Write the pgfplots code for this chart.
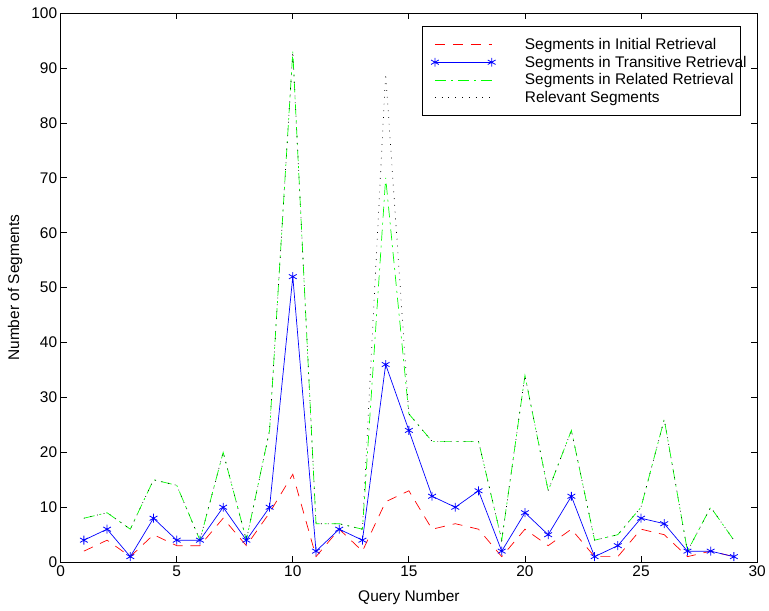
\documentclass[border=0pt]{standalone}
\usepackage{pgfplots}
\pgfplotsset{compat=1.18}
\usepackage{fontspec}
\setmainfont{Liberation Sans}

\newcommand\entry[1]{\makebox[214pt][l]{#1}}

\begin{document}
\begin{tikzpicture}
\begin{axis}[
  scale only axis,
  width=699pt, height=551pt,
  xmin=0, xmax=30, ymin=0, ymax=100,
  xtick={0,5,...,30}, ytick={0,10,...,100},
  tick align=inside,
  major tick length=6pt,
  axis line style={line width=1pt},
  every tick/.style={black, line width=0.8pt},
  font=\fontsize{15.5}{18}\selectfont,
  tick label style={font=\fontsize{15.5}{18}\selectfont},
  /pgf/number format/assume math mode=true,
  title={\rule{0pt}{0pt}},
  title style={inner sep=0pt, minimum height=7pt, yshift=0pt},
  xlabel={Query Number},
  ylabel={Number of Segments},
  xlabel style={inner ysep=6pt, yshift=-4pt},
  ylabel style={inner ysep=8pt, yshift=-2.5pt},
  legend cell align=left,
  legend style={
    at={(rel axis cs:0.519,0.977)}, anchor=north west,
    draw=black, line width=1pt,
    inner xsep=0pt, inner ysep=10pt,
    row sep=1pt,
    font=\fontsize{15.5}{18}\selectfont,
  },
  legend image code/.code={
    \path (-12pt,0pt);
    \draw[mark repeat=1,#1] plot coordinates {(0pt,0pt) (57pt,0pt)};
    \path (88pt,0pt);
  },
]
\addplot[red, line width=0.7pt, dash pattern=on 10pt off 8pt] coordinates {
(1,2) (2,4) (3,1) (4,5) (5,3) (6,3) (7,8) (8,3) (9,9) (10,16)
(11,1) (12,6) (13,2) (14,11) (15,13) (16,6) (17,7) (18,6) (19,1) (20,6)
(21,3) (22,6) (23,1) (24,1) (25,6) (26,5) (27,1) (28,2) (29,1)};
\addlegendentry{\entry{Segments in Initial Retrieval}}
\addplot[blue, line width=0.7pt, mark=asterisk, mark size=4.5pt, mark options={solid, line width=0.8pt}] coordinates {
(1,4) (2,6) (3,1) (4,8) (5,4) (6,4) (7,10) (8,4) (9,10) (10,52)
(11,2) (12,6) (13,4) (14,36) (15,24) (16,12) (17,10) (18,13) (19,2) (20,9)
(21,5) (22,12) (23,1) (24,3) (25,8) (26,7) (27,2) (28,2) (29,1)};
\addlegendentry{\entry{Segments in Transitive Retrieval}}
\addplot[green, line width=0.7pt, dash pattern=on 11pt off 5pt on 2pt off 5pt] coordinates {
(1,8) (2,9) (3,6) (4,15) (5,14) (6,4) (7,20) (8,4) (9,24) (10,93)
(11,7) (12,7) (13,6) (14,70) (15,27) (16,22) (17,22) (18,22) (19,4) (20,34)
(21,13) (22,24) (23,4) (24,5) (25,10) (26,26) (27,2) (28,10) (29,4)};
\addlegendentry{\entry{Segments in Related Retrieval}}
\addplot[black, line width=0.7pt, dash pattern=on 0.8pt off 6pt] coordinates {
(1,8) (2,9) (3,6) (4,15) (5,14) (6,4) (7,20) (8,4) (9,24) (10,93)
(11,7) (12,7) (13,6) (14,89) (15,27) (16,22) (17,22) (18,22) (19,4) (20,34)
(21,13) (22,24) (23,4) (24,5) (25,10) (26,26) (27,2) (28,10) (29,4)};
\addlegendentry{\entry{Relevant Segments}}
\end{axis}
\end{tikzpicture}
\end{document}
